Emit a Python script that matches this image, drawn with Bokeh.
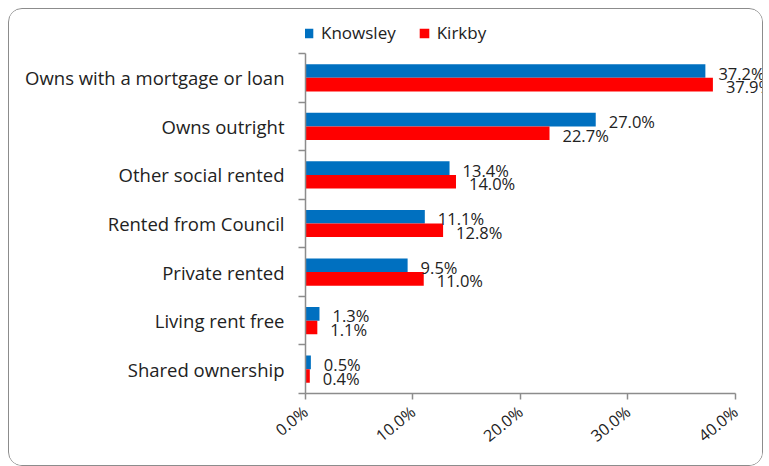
from bokeh.plotting import figure
from bokeh.models import (ColumnDataSource, Range1d, FixedTicker, NumeralTickFormatter,
                          LabelSet, Legend, LegendItem)
from bokeh.core.properties import value
from bokeh.embed import file_html
from bokeh.resources import INLINE

categories = ["Owns with a mortgage or loan", "Owns outright", "Other social rented",
              "Rented from Council", "Private rented", "Living rent free", "Shared ownership"]
knowsley = [37.2, 27.0, 13.4, 11.1, 9.5, 1.3, 0.5]
kirkby = [37.9, 22.7, 14.0, 12.8, 11.0, 1.1, 0.4]
series_names = ["Knowsley", "Kirkby"]
colors = ["#0070C0", "#FF0000"]
x_ticks = [0.0, 0.1, 0.2, 0.3, 0.4]

n = len(categories)
centers = [n - i - 0.5 for i in range(n)]
bar_h = 0.28

FONT = "Open Sans"
TXT = "#222222"
AX = "#8c8c8c"

p = figure(width=755, height=458, output_backend="svg", toolbar_location=None,
           x_range=Range1d(0, 0.427), y_range=Range1d(0, n + 0.68),
           min_border_left=296, min_border_right=0, min_border_top=11, min_border_bottom=74,
           styles={"border": "1.5px solid #8c8c8c", "border-radius": "14px", "overflow": "hidden",
                   "margin-left": "8px", "margin-top": "8px"})
p.outline_line_color = None
p.xgrid.grid_line_color = None
p.ygrid.grid_line_color = None
p.background_fill_color = "white"
p.border_fill_color = "white"

renderers = []
for vals, off, col in [(knowsley, bar_h / 2, colors[0]), (kirkby, -bar_h / 2, colors[1])]:
    src = ColumnDataSource(dict(
        y=[c + off for c in centers],
        v=[v / 100 for v in vals],
        lab=[f"{v:.1f}%" for v in vals],
    ))
    r = p.hbar(y="y", right="v", left=0, height=bar_h, source=src,
               fill_color=col, line_color=None)
    renderers.append(r)
    p.add_layout(LabelSet(x="v", y="y", text="lab", source=src, x_offset=13, y_offset=-2,
                          text_baseline="middle", text_align="left",
                          text_font=value(FONT), text_font_size="16.5px", text_color=TXT))

# x axis
xa = p.xaxis[0]
xa.bounds = (0, 0.4)
xa.ticker = FixedTicker(ticks=x_ticks, minor_ticks=[])
xa.formatter = NumeralTickFormatter(format="0.0%")
xa.major_label_orientation = 0.68
xa.axis_line_color = AX
xa.axis_line_width = 1.5
xa.major_tick_line_color = AX
xa.major_tick_line_width = 1.5
xa.major_tick_in = 0
xa.major_tick_out = 6
xa.minor_tick_line_color = None
xa.major_label_text_font = FONT
xa.major_label_text_font_size = "16px"
xa.major_label_text_color = TXT
xa.major_label_standoff = 10

# y axis
ya = p.yaxis[0]
ya.bounds = (0, n)
ya.ticker = FixedTicker(ticks=centers, minor_ticks=list(range(n + 1)))
ya.major_label_overrides = {c: cat for c, cat in zip(centers, categories)}
ya.axis_line_color = AX
ya.axis_line_width = 1.5
ya.major_tick_line_color = None
ya.major_tick_in = 0
ya.major_tick_out = 0
ya.minor_tick_line_color = AX
ya.minor_tick_line_width = 1.5
ya.minor_tick_in = 0
ya.minor_tick_out = 7
ya.major_label_text_font = FONT
ya.major_label_text_font_size = "18.5px"
ya.major_label_text_color = TXT
ya.major_label_standoff = 14

legend = Legend(items=[LegendItem(label=nm, renderers=[r]) for nm, r in zip(series_names, renderers)],
                orientation="horizontal", location=(-3, 349),
                glyph_width=12, glyph_height=12, label_standoff=7, spacing=22,
                label_text_font=FONT, label_text_font_size="17px", label_text_color=TXT,
                border_line_color=None, background_fill_alpha=0, padding=0, margin=0)
p.add_layout(legend, "center")

open("out.html", "w").write(file_html(p, INLINE))
